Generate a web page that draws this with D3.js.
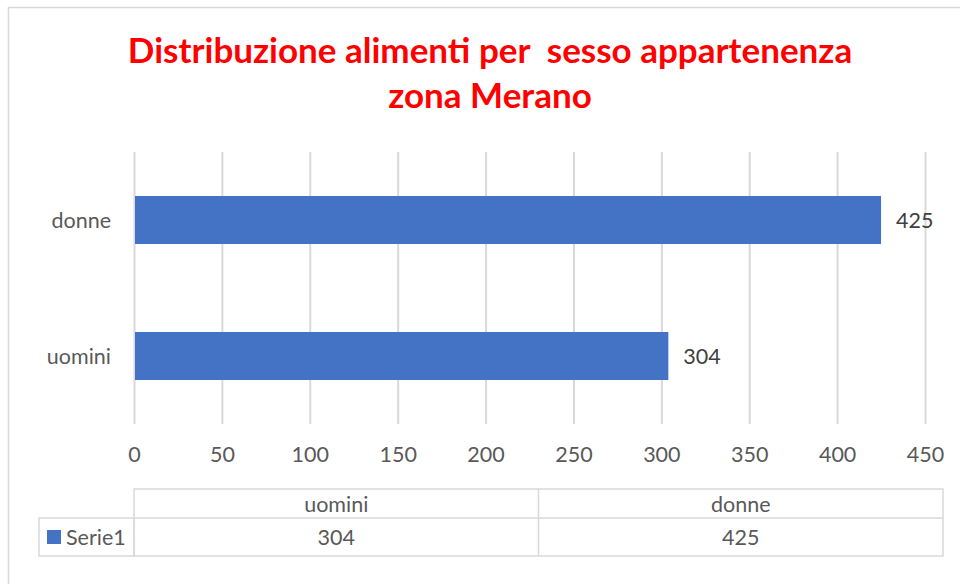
<!DOCTYPE html>
<html>
<head>
<meta charset="utf-8">
<script src="https://cdn.jsdelivr.net/npm/d3@7"></script>
<style>
  body { margin: 0; background: #fff; }
  svg { display: block; font-family: Lato, "Open Sans", sans-serif; }
</style>
</head>
<body>
<svg width="960" height="584"></svg>
<script>
var categories = ["uomini", "donne"];
var values = [304, 425];
var seriesName = "Serie1";
var xTicks = [0, 50, 100, 150, 200, 250, 300, 350, 400, 450];
var titleLines = ["Distribuzione alimenti per  sesso appartenenza", "zona Merano"];

var svg = d3.select("svg");
var textColor = "#595959",
    gridColor = "#d9d9d9",
    barColor = "#4472c4",
    fs = 21.5;

// chart frame (runs off the right and bottom of the picture)
svg.append("rect")
    .attr("x", 8.5).attr("y", 7.5)
    .attr("width", 980).attr("height", 600)
    .attr("fill", "none").attr("stroke", gridColor).attr("stroke-width", 1.5);

svg.append("g").selectAll("text")
    .data(titleLines).enter()
    .append("text")
    .attr("x", 490)
    .attr("y", function(d, i) { return 63 + i * 45; })
    .attr("text-anchor", "middle")
    .attr("fill", "#ff0000")
    .attr("font-weight", "bold")
    .attr("font-size", 35)
    .style("white-space", "pre")
    .text(function(d) { return d; });

var x = d3.scaleLinear().domain([0, 450]).range([134, 925]);

// bars drawn top to bottom in reverse order (donne on top)
var y = d3.scaleBand()
    .domain(categories.slice().reverse())
    .range([152, 424])
    .paddingInner(0.647)
    .paddingOuter(0.3235);

var grid = svg.append("g")
    .attr("transform", "translate(0,424)")
    .call(d3.axisBottom(x).tickValues(xTicks).tickSize(-272).tickPadding(23));
grid.select(".domain").remove();
grid.selectAll(".tick line").attr("stroke", gridColor).attr("stroke-width", 2);
grid.selectAll(".tick text")
    .attr("fill", textColor)
    .attr("font-size", fs)
    .attr("font-family", "Lato, 'Open Sans', sans-serif");

var rows = categories.map(function(c, i) { return { name: c, value: values[i] }; });

svg.append("g").selectAll("rect")
    .data(rows).enter()
    .append("rect")
    .attr("x", x(0) + 1)
    .attr("y", function(d) { return y(d.name); })
    .attr("width", function(d) { return x(d.value) - x(0) - 1; })
    .attr("height", y.bandwidth())
    .attr("fill", barColor);

svg.append("g").selectAll("text")
    .data(rows).enter()
    .append("text")
    .attr("x", function(d) { return x(d.value) + 15; })
    .attr("y", function(d) { return y(d.name) + y.bandwidth() / 2; })
    .attr("dy", "0.35em")
    .attr("fill", "#404040")
    .attr("font-size", fs)
    .text(function(d) { return d.value; });

svg.append("g").selectAll("text")
    .data(rows).enter()
    .append("text")
    .attr("x", 111)
    .attr("y", function(d) { return y(d.name) + y.bandwidth() / 2; })
    .attr("dy", "0.35em")
    .attr("text-anchor", "end")
    .attr("fill", textColor)
    .attr("font-size", fs)
    .text(function(d) { return d.name; });

// data table
var tableLeft = 134, tableRight = 943;
var col = d3.scaleBand().domain(categories).range([tableLeft, tableRight]);
var table = svg.append("g").attr("stroke", gridColor).attr("stroke-width", 1.5).attr("fill", "none");
table.append("rect").attr("x", tableLeft).attr("y", 489).attr("width", tableRight - tableLeft).attr("height", 67);
table.append("rect").attr("x", 39).attr("y", 518).attr("width", tableLeft - 39).attr("height", 38);
table.append("line").attr("x1", tableLeft).attr("x2", tableRight).attr("y1", 518).attr("y2", 518);
table.selectAll(".div")
    .data(categories.slice(1)).enter()
    .append("line")
    .attr("x1", function(d) { return col(d); })
    .attr("x2", function(d) { return col(d); })
    .attr("y1", 489).attr("y2", 556);

svg.append("g").selectAll("text")
    .data(rows).enter()
    .append("text")
    .attr("x", function(d) { return col(d.name) + col.bandwidth() / 2; })
    .attr("y", 504)
    .attr("dy", "0.35em")
    .attr("text-anchor", "middle")
    .attr("fill", textColor)
    .attr("font-size", fs)
    .text(function(d) { return d.name; });

svg.append("g").selectAll("text")
    .data(rows).enter()
    .append("text")
    .attr("x", function(d) { return col(d.name) + col.bandwidth() / 2; })
    .attr("y", 537)
    .attr("dy", "0.35em")
    .attr("text-anchor", "middle")
    .attr("fill", textColor)
    .attr("font-size", fs)
    .text(function(d) { return d.value; });

svg.append("rect")
    .attr("x", 47).attr("y", 530).attr("width", 14).attr("height", 14)
    .attr("fill", barColor);
svg.append("text")
    .attr("x", 66).attr("y", 537).attr("dy", "0.35em")
    .attr("fill", textColor)
    .attr("font-size", fs)
    .text(seriesName);
</script>
</body>
</html>
